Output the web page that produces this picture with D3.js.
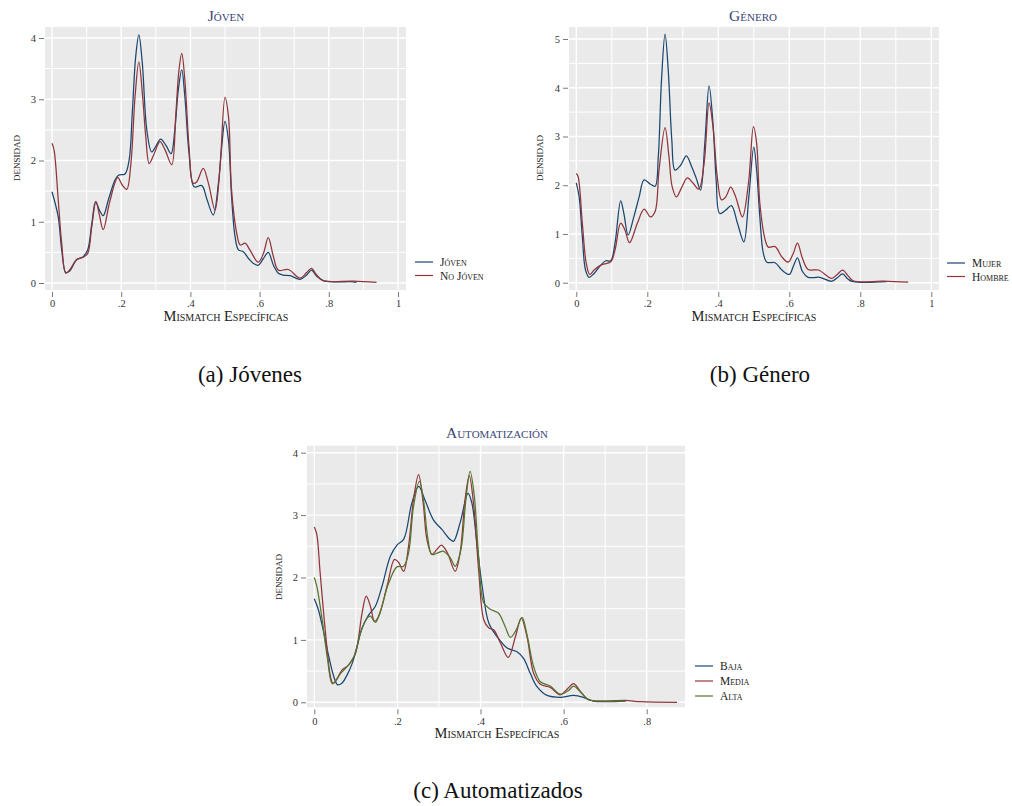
<!DOCTYPE html>
<html>
<head>
<meta charset="utf-8">
<script src="https://cdn.jsdelivr.net/npm/d3@7"></script>
<style>
  html, body { margin: 0; padding: 0; background: #ffffff; }
  svg { display: block; }
  .sc { font-family: "Liberation Serif", "DejaVu Serif", serif; font-variant: small-caps; }
  .tick-label { font-family: "Liberation Serif", serif; font-size: 10.5px; fill: #333; }
  .caption { font-family: "Liberation Serif", serif; font-size: 23px; fill: #111; }
</style>
</head>
<body>
<svg id="chart" width="1012" height="806"></svg>
<script>
// ---------------- DATA ----------------
// Panel (a) Jóven
const jovenLabels = ["Jóven", "No Jóven"];
const jovenSeries = [
  [0,1.49],[0.018,1.08],[0.028,0.54],[0.04,0.17],[0.052,0.2],[0.071,0.38],[0.09,0.43],[0.103,0.54],[0.115,0.97],[0.126,1.33],[0.137,1.19],[0.148,1.1],[0.163,1.36],[0.182,1.68],[0.192,1.76],[0.211,1.78],[0.223,2.01],[0.232,2.77],[0.242,3.7],[0.251,4.05],[0.261,3.59],[0.274,2.5],[0.288,2.14],[0.3,2.23],[0.314,2.35],[0.329,2.25],[0.344,2.11],[0.355,2.5],[0.365,3.15],[0.375,3.48],[0.384,3.04],[0.396,2.12],[0.411,1.57],[0.433,1.59],[0.447,1.38],[0.466,1.11],[0.481,1.63],[0.49,2.2],[0.5,2.64],[0.51,2.33],[0.519,1.41],[0.529,0.76],[0.539,0.54],[0.553,0.51],[0.568,0.4],[0.582,0.32],[0.596,0.29],[0.611,0.4],[0.625,0.5],[0.64,0.29],[0.654,0.16],[0.668,0.13],[0.688,0.12],[0.717,0.06],[0.736,0.13],[0.75,0.21],[0.765,0.11],[0.784,0.04],[0.813,0.02],[0.871,0.02],[0.88,0.01]
];
const noJovenSeries = [
  [0,2.28],[0.006,2.17],[0.018,1.36],[0.028,0.65],[0.04,0.16],[0.052,0.22],[0.071,0.38],[0.09,0.42],[0.103,0.48],[0.115,0.92],[0.127,1.33],[0.137,1.11],[0.148,0.87],[0.167,1.33],[0.19,1.72],[0.203,1.6],[0.216,1.53],[0.228,1.95],[0.24,3.04],[0.251,3.61],[0.262,3.04],[0.271,2.39],[0.281,1.95],[0.296,2.12],[0.312,2.31],[0.327,2.17],[0.346,1.93],[0.358,2.77],[0.367,3.48],[0.375,3.75],[0.384,3.31],[0.396,2.23],[0.408,1.63],[0.418,1.65],[0.437,1.87],[0.452,1.63],[0.471,1.19],[0.485,1.84],[0.5,3.03],[0.51,2.72],[0.519,1.52],[0.534,0.81],[0.544,0.62],[0.558,0.65],[0.572,0.54],[0.596,0.34],[0.611,0.48],[0.625,0.74],[0.64,0.43],[0.654,0.21],[0.683,0.22],[0.717,0.08],[0.736,0.17],[0.75,0.24],[0.765,0.13],[0.784,0.04],[0.871,0.03],[0.938,0.01]
];

// Panel (b) Género
const generoLabels = ["Mujer", "Hombre"];
const mujerSeries = [
  [0,2.05],[0.008,1.76],[0.017,0.94],[0.026,0.26],[0.036,0.11],[0.05,0.19],[0.069,0.36],[0.083,0.45],[0.097,0.45],[0.109,0.81],[0.125,1.68],[0.134,1.42],[0.146,0.98],[0.162,1.35],[0.177,1.76],[0.191,2.11],[0.209,2.02],[0.222,1.98],[0.231,2.59],[0.24,4.16],[0.25,5.1],[0.259,4.36],[0.269,2.93],[0.278,2.31],[0.294,2.41],[0.31,2.6],[0.325,2.38],[0.338,2.14],[0.35,1.9],[0.362,2.86],[0.374,4.04],[0.385,3.27],[0.394,2.11],[0.404,1.42],[0.421,1.49],[0.437,1.58],[0.454,1.22],[0.472,0.84],[0.486,1.76],[0.5,2.78],[0.508,2.31],[0.517,1.35],[0.527,0.6],[0.537,0.42],[0.56,0.41],[0.579,0.26],[0.6,0.17],[0.611,0.33],[0.623,0.51],[0.637,0.23],[0.653,0.11],[0.686,0.11],[0.719,0.03],[0.735,0.1],[0.75,0.18],[0.766,0.07],[0.78,0.02],[0.874,0.02]
];
const hombreSeries = [
  [0,2.24],[0.005,2.18],[0.017,1.22],[0.028,0.4],[0.038,0.17],[0.05,0.26],[0.069,0.36],[0.097,0.43],[0.109,0.67],[0.125,1.22],[0.137,1.08],[0.15,0.82],[0.172,1.22],[0.191,1.51],[0.209,1.35],[0.222,1.46],[0.233,2.31],[0.25,3.18],[0.261,2.59],[0.27,1.97],[0.282,1.76],[0.296,1.94],[0.313,2.15],[0.329,2.04],[0.345,1.92],[0.36,2.45],[0.374,3.69],[0.385,3.2],[0.397,2.18],[0.409,1.7],[0.421,1.76],[0.435,1.96],[0.449,1.76],[0.468,1.35],[0.485,2.04],[0.499,3.2],[0.508,2.86],[0.517,1.63],[0.532,0.88],[0.541,0.73],[0.56,0.74],[0.579,0.53],[0.597,0.42],[0.611,0.6],[0.623,0.81],[0.637,0.5],[0.653,0.27],[0.682,0.26],[0.719,0.09],[0.735,0.17],[0.75,0.26],[0.766,0.14],[0.78,0.04],[0.865,0.03],[0.935,0.01]
];

// Panel (c) Automatización
const autoLabels = ["Baja", "Media", "Alta"];
const bajaSeries = [
  [0,1.66],[0.01,1.48],[0.023,1.11],[0.035,0.73],[0.047,0.41],[0.056,0.28],[0.067,0.31],[0.079,0.44],[0.091,0.62],[0.103,0.89],[0.115,1.19],[0.131,1.4],[0.147,1.54],[0.163,1.86],[0.183,2.34],[0.199,2.52],[0.215,2.61],[0.235,3.2],[0.251,3.46],[0.267,3.23],[0.287,2.92],[0.307,2.77],[0.327,2.61],[0.335,2.58],[0.351,2.88],[0.37,3.35],[0.379,3.2],[0.392,2.51],[0.404,1.86],[0.42,1.27],[0.44,1.05],[0.464,0.87],[0.488,0.81],[0.504,0.7],[0.52,0.46],[0.536,0.25],[0.56,0.11],[0.592,0.08],[0.624,0.11],[0.648,0.08],[0.672,0.02],[0.704,0.01],[0.749,0.02]
];
const mediaSeries = [
  [0,2.81],[0.006,2.69],[0.014,2.08],[0.027,1.11],[0.039,0.41],[0.045,0.3],[0.055,0.38],[0.067,0.52],[0.083,0.6],[0.099,0.78],[0.115,1.43],[0.125,1.7],[0.135,1.54],[0.145,1.3],[0.155,1.38],[0.175,1.86],[0.193,2.29],[0.203,2.24],[0.215,2.1],[0.227,2.51],[0.239,3.26],[0.251,3.65],[0.262,3.2],[0.271,2.61],[0.283,2.37],[0.295,2.45],[0.306,2.52],[0.32,2.4],[0.339,2.1],[0.351,2.4],[0.363,3.26],[0.373,3.63],[0.383,3.2],[0.396,2.08],[0.408,1.32],[0.42,1.19],[0.432,1.16],[0.448,0.95],[0.467,0.72],[0.484,1.05],[0.498,1.35],[0.512,1.05],[0.528,0.46],[0.544,0.29],[0.568,0.24],[0.592,0.12],[0.61,0.22],[0.624,0.3],[0.64,0.18],[0.66,0.04],[0.704,0.02],[0.749,0.03],[0.785,0.01],[0.873,0]
];
const altaSeries = [
  [0,2.0],[0.006,1.86],[0.019,1.32],[0.031,0.73],[0.043,0.3],[0.05,0.33],[0.063,0.46],[0.079,0.57],[0.095,0.73],[0.111,1.11],[0.127,1.35],[0.135,1.38],[0.147,1.28],[0.159,1.46],[0.179,1.91],[0.199,2.17],[0.215,2.18],[0.227,2.4],[0.239,3.15],[0.253,3.54],[0.263,3.23],[0.273,2.64],[0.283,2.37],[0.299,2.4],[0.311,2.42],[0.327,2.32],[0.339,2.18],[0.353,2.45],[0.365,3.26],[0.375,3.7],[0.385,3.31],[0.396,2.29],[0.408,1.59],[0.424,1.49],[0.443,1.43],[0.459,1.22],[0.472,1.04],[0.486,1.16],[0.5,1.36],[0.512,1.08],[0.528,0.57],[0.544,0.33],[0.568,0.26],[0.592,0.13],[0.612,0.19],[0.624,0.26],[0.64,0.17],[0.66,0.04],[0.704,0.02],[0.749,0.02]
];

// tick values & labels
const xTicksAB = [0, 0.2, 0.4, 0.6, 0.8, 1];
const xTickLabelsAB = ["0", ".2", ".4", ".6", ".8", "1"];
const xTicksC = [0, 0.2, 0.4, 0.6, 0.8];
const xTickLabelsC = ["0", ".2", ".4", ".6", ".8"];
const yTicksA = [0, 1, 2, 3, 4];
const yTicksB = [0, 1, 2, 3, 4, 5];
const yTicksC = [0, 1, 2, 3, 4];

const titles = ["Jóven", "Género", "Automatización"];
const captions = ["(a) Jóvenes", "(b) Género", "(c) Automatizados"];
const xAxisTitle = "Mismatch Específicas";
const yAxisTitle = "densidad";

// Stata s2color palette: navy, maroon, forest_green
const colors = ["#1a476f", "#90353b", "#55752f"];

// ---------------- DRAW ----------------
const svg = d3.select("#chart");

function drawPanel(cfg) {
  const g = svg.append("g");
  const x = d3.scaleLinear().domain(cfg.xDomain).range(cfg.xRange);
  const y = d3.scaleLinear().domain(cfg.yDomain).range(cfg.yRange);
  const bx0 = cfg.box[0], bx1 = cfg.box[1], by0 = cfg.box[2], by1 = cfg.box[3];

  g.append("rect").attr("x", bx0).attr("y", by0)
    .attr("width", bx1 - bx0).attr("height", by1 - by0)
    .attr("fill", "#eaeaea");

  // grid lines: every 0.1 on x, every 0.5 on y
  const xGrid = d3.range(0, cfg.xGridMax + 1e-9, 0.1);
  const yGrid = d3.range(0, cfg.yDomain[1] + 1e-9, 0.5);
  g.selectAll(".vg").data(xGrid).enter().append("line")
    .attr("x1", d => x(d)).attr("x2", d => x(d))
    .attr("y1", by0).attr("y2", by1)
    .attr("stroke", "#ffffff")
    .attr("stroke-width", d => Math.abs(Math.round(d * 10) % 2) === 0 ? 1.4 : 1.0);
  g.selectAll(".hg").data(yGrid).enter().append("line")
    .attr("x1", bx0).attr("x2", bx1)
    .attr("y1", d => y(d)).attr("y2", d => y(d))
    .attr("stroke", "#ffffff")
    .attr("stroke-width", d => Math.abs(Math.round(d * 2) % 2) === 0 ? 1.4 : 1.0);

  // axes (ticks outside the plot region, no domain line)
  const xAxis = d3.axisBottom(x).tickValues(cfg.xTicks)
    .tickFormat((d, i) => cfg.xTickLabels[i]).tickSize(5).tickPadding(3);
  const gx = g.append("g").attr("transform", `translate(0,${by1 + 2})`).call(xAxis);
  const yAxis = d3.axisLeft(y).tickValues(cfg.yTicks)
    .tickFormat(d3.format("d")).tickSize(5).tickPadding(3);
  const gy = g.append("g").attr("transform", `translate(${bx0 - 1},0)`).call(yAxis);
  [gx, gy].forEach(a => {
    a.select(".domain").remove();
    a.selectAll(".tick line").attr("stroke", "#555").attr("stroke-width", 0.8);
    a.selectAll(".tick text").attr("class", "tick-label").attr("fill", "#333");
  });

  // curves
  const line = d3.line().x(d => x(d[0])).y(d => y(d[1]))
    .curve(d3.curveCatmullRom.alpha(0.5));
  cfg.series.forEach((s, i) => {
    g.append("path").datum(s).attr("d", line)
      .attr("fill", "none").attr("stroke", colors[i])
      .attr("stroke-width", 1.25).attr("stroke-linejoin", "round");
  });

  // titles
  g.append("text").attr("class", "sc").attr("x", cfg.titlePos[0]).attr("y", cfg.titlePos[1])
    .attr("text-anchor", "middle").attr("font-size", 15.5).attr("fill", "#3a4676")
    .text(cfg.title);
  g.append("text").attr("class", "sc").attr("x", cfg.xTitlePos[0]).attr("y", cfg.xTitlePos[1])
    .attr("text-anchor", "middle").attr("font-size", 14.5).attr("fill", "#222")
    .text(xAxisTitle);
  g.append("text").attr("class", "sc")
    .attr("transform", `translate(${cfg.yTitlePos[0]},${cfg.yTitlePos[1]}) rotate(-90)`)
    .attr("text-anchor", "middle").attr("font-size", 13).attr("fill", "#222")
    .text(yAxisTitle);

  // legend
  const lg = g.append("g");
  cfg.labels.forEach((lab, i) => {
    const ly = cfg.legendPos[1] + i * cfg.legendStep;
    lg.append("line").attr("x1", cfg.legendPos[0]).attr("x2", cfg.legendPos[0] + 18)
      .attr("y1", ly).attr("y2", ly)
      .attr("stroke", colors[i]).attr("stroke-width", 1.2);
    lg.append("text").attr("class", "sc").attr("x", cfg.legendPos[0] + 25).attr("y", ly + 4)
      .attr("font-size", 11.5).attr("fill", "#222").text(lab);
  });

  // caption
  svg.append("text").attr("class", "caption").attr("x", cfg.captionPos[0]).attr("y", cfg.captionPos[1])
    .attr("text-anchor", "middle").text(cfg.caption);
}

drawPanel({
  box: [45, 406, 27, 290], xDomain: [0, 1], xRange: [52, 398], yDomain: [0, 4], yRange: [283, 38],
  xGridMax: 1, xTicks: xTicksAB, xTickLabels: xTickLabelsAB, yTicks: yTicksA,
  series: [jovenSeries, noJovenSeries], labels: jovenLabels,
  title: titles[0], titlePos: [226, 21], xTitlePos: [226, 321], yTitlePos: [20, 158],
  legendPos: [415, 262], legendStep: 13.5,
  caption: captions[0], captionPos: [250, 382]
});

drawPanel({
  box: [569, 939, 27, 290], xDomain: [0, 1], xRange: [576.3, 931.3], yDomain: [0, 5], yRange: [282.7, 39],
  xGridMax: 1, xTicks: xTicksAB, xTickLabels: xTickLabelsAB, yTicks: yTicksB,
  series: [mujerSeries, hombreSeries], labels: generoLabels,
  title: titles[1], titlePos: [753, 21], xTitlePos: [754, 321], yTitlePos: [543, 158],
  legendPos: [947, 263], legendStep: 13.5,
  caption: captions[1], captionPos: [760, 382]
});

drawPanel({
  box: [307, 685, 445.7, 707.3], xDomain: [0, 0.8], xRange: [314.3, 646.7], yDomain: [0, 4], yRange: [702.3, 452.7],
  xGridMax: 0.8, xTicks: xTicksC, xTickLabels: xTickLabelsC, yTicks: yTicksC,
  series: [bajaSeries, mediaSeries, altaSeries], labels: autoLabels,
  title: titles[2], titlePos: [497, 438], xTitlePos: [497, 738], yTitlePos: [282, 577],
  legendPos: [695, 666], legendStep: 15,
  caption: captions[2], captionPos: [498, 798]
});
</script>
</body>
</html>
